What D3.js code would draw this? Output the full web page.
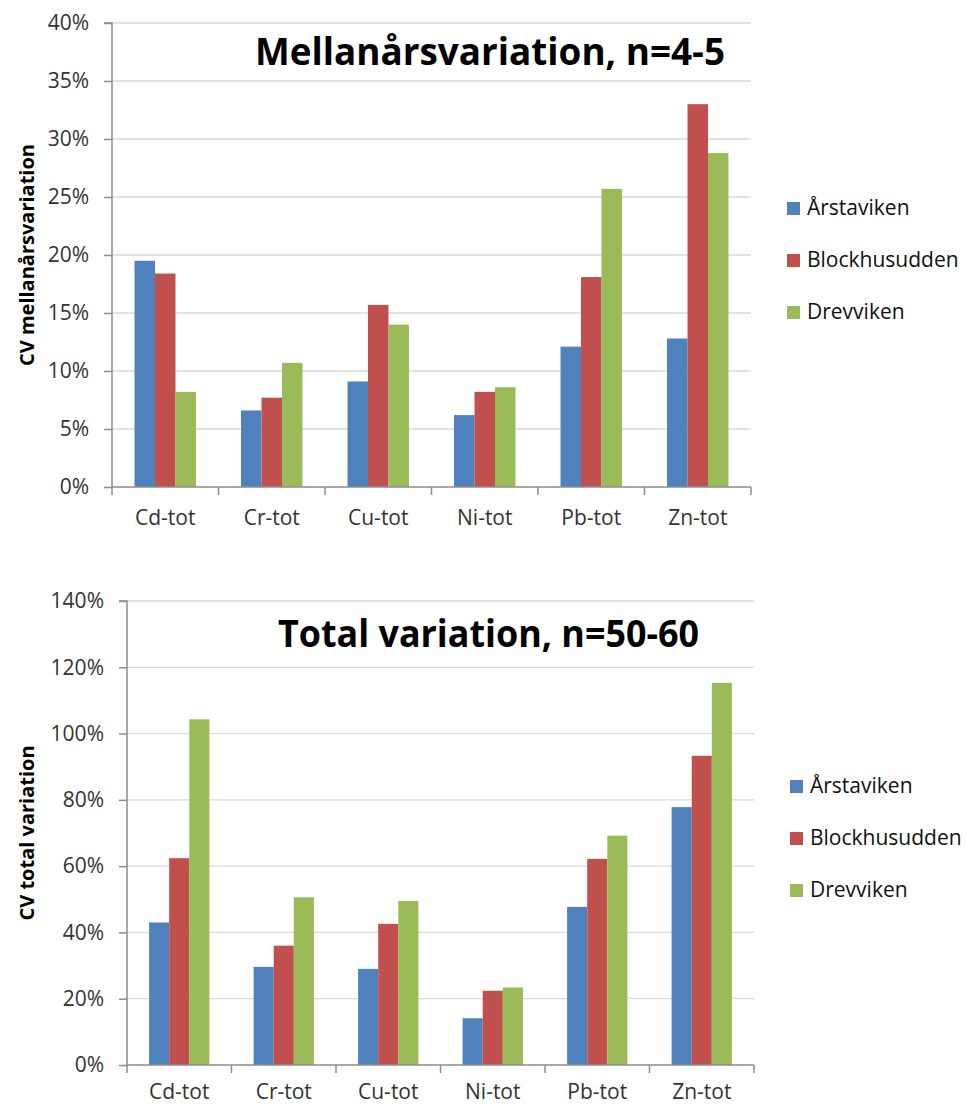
<!DOCTYPE html>
<html>
<head>
<meta charset="utf-8">
<script src="https://cdn.jsdelivr.net/npm/d3@7"></script>
<style>
  html, body { margin: 0; padding: 0; background: #fff; }
  svg { display: block; }
  text { font-family: "Open Sans", "Liberation Sans", sans-serif; }
</style>
</head>
<body>
<svg id="chart" width="967" height="1106"></svg>
<script>
// ---- Data ----
const categories = ["Cd-tot", "Cr-tot", "Cu-tot", "Ni-tot", "Pb-tot", "Zn-tot"];
const seriesNames = ["Årstaviken", "Blockhusudden", "Drevviken"];
const seriesColors = ["#4F81BD", "#C0504D", "#9BBB59"];

// Mellanårsvariation (CV %, n=4-5)
const mellanArstaviken    = [19.5, 6.6, 9.1, 6.2, 12.1, 12.8];
const mellanBlockhusudden = [18.4, 7.7, 15.7, 8.2, 18.1, 33.0];
const mellanDrevviken     = [8.2, 10.7, 14.0, 8.6, 25.7, 28.8];
const mellanTicks = [0, 5, 10, 15, 20, 25, 30, 35, 40];

// Total variation (CV %, n=50-60)
const totalArstaviken    = [43.0, 29.6, 29.0, 14.1, 47.7, 77.8];
const totalBlockhusudden = [62.4, 36.0, 42.6, 22.4, 62.2, 93.3];
const totalDrevviken     = [104.3, 50.6, 49.5, 23.4, 69.2, 115.3];
const totalTicks = [0, 20, 40, 60, 80, 100, 120, 140];

const svg = d3.select("#chart");

function drawChart(cfg) {
  const { left, right, top, bottom, ticks, series, title, titleX, titleY, titleLen,
          yTitle, legendX, legendY, labelOffset } = cfg;
  const g = svg.append("g");

  const x = d3.scaleBand().domain(categories).range([left, right]).padding(0);
  const y = d3.scaleLinear().domain([0, d3.max(ticks)]).range([bottom, top]);
  const barW = x.step() / 5.2;
  const groupW = barW * series.length;
  const xs = d3.scaleBand().domain(d3.range(series.length))
    .range([0, groupW]).padding(0);

  // gridlines
  g.append("g").selectAll("line").data(ticks.filter(t => t > 0)).join("line")
    .attr("x1", left).attr("x2", right)
    .attr("y1", d => y(d)).attr("y2", d => y(d))
    .attr("stroke", "#d9d9d9").attr("stroke-width", 1.3);

  // bars
  series.forEach((vals, si) => {
    g.append("g").selectAll("rect").data(vals).join("rect")
      .attr("x", (d, i) => x(categories[i]) + (x.step() - groupW) / 2 + xs(si))
      .attr("width", xs.bandwidth())
      .attr("y", d => y(d))
      .attr("height", d => y(0) - y(d))
      .attr("fill", seriesColors[si]);
  });

  // y axis
  const yAxis = d3.axisLeft(y).tickValues(ticks).tickFormat(d => d + "%")
    .tickSize(8).tickPadding(15);
  const ya = g.append("g").attr("transform", `translate(${left},0)`).call(yAxis);
  ya.select(".domain").attr("stroke", "#8c8c8c").attr("stroke-width", 1.5)
    .attr("d", `M-8,${top}H0V${bottom}`);
  ya.selectAll(".tick line").attr("stroke", "#8c8c8c").attr("stroke-width", 1.5);
  ya.selectAll(".tick text").attr("font-size", 21).attr("fill", "#333")
    .attr("font-family", "'Open Sans', sans-serif");

  // x axis
  const xAxis = d3.axisBottom(x).tickSize(0).tickPadding(0);
  const xa = g.append("g").attr("transform", `translate(0,${bottom})`).call(xAxis);
  xa.select(".domain").attr("stroke", "#8c8c8c").attr("stroke-width", 1.5)
    .attr("d", `M${left},0H${right}`);
  xa.selectAll(".tick text").attr("font-size", 21).attr("fill", "#333")
    .attr("font-family", "'Open Sans', sans-serif")
    .attr("y", labelOffset).attr("dy", 0);
  const bounds = categories.map(c => x(c)).concat([right]);
  xa.append("g").selectAll("line").data(bounds).join("line")
    .attr("x1", d => d).attr("x2", d => d).attr("y1", 0).attr("y2", 8)
    .attr("stroke", "#8c8c8c").attr("stroke-width", 1.5);

  // title
  g.append("text").attr("x", titleX).attr("y", titleY)
    .attr("font-size", 37).attr("font-weight", "bold").attr("fill", "#000")
    .attr("textLength", titleLen).attr("lengthAdjust", "spacingAndGlyphs")
    .text(title);

  // y title
  g.append("text")
    .attr("transform", `translate(34,${(top + bottom) / 2}) rotate(-90)`)
    .attr("text-anchor", "middle").attr("font-size", 20).attr("font-weight", "bold")
    .attr("fill", "#000").text(yTitle);

  // legend
  const lg = g.append("g").attr("transform", `translate(${legendX},${legendY})`);
  seriesNames.forEach((name, i) => {
    lg.append("rect").attr("x", 0).attr("y", i * 52 - 13).attr("width", 13).attr("height", 13)
      .attr("fill", seriesColors[i]);
    lg.append("text").attr("x", 20).attr("y", i * 52).attr("font-size", 21)
      .attr("fill", "#111").text(name);
  });
}

drawChart({
  left: 112, right: 751, top: 23, bottom: 487,
  ticks: mellanTicks,
  series: [mellanArstaviken, mellanBlockhusudden, mellanDrevviken],
  title: "Mellanårsvariation, n=4-5", titleX: 255, titleY: 65, titleLen: 470,
  yTitle: "CV mellanårsvariation",
  legendX: 787, legendY: 215, labelOffset: 38
});

drawChart({
  left: 127, right: 754, top: 601, bottom: 1065,
  ticks: totalTicks,
  series: [totalArstaviken, totalBlockhusudden, totalDrevviken],
  title: "Total variation, n=50-60", titleX: 278, titleY: 647, titleLen: 421,
  yTitle: "CV total variation",
  legendX: 790, legendY: 793, labelOffset: 34
});
</script>
</body>
</html>
